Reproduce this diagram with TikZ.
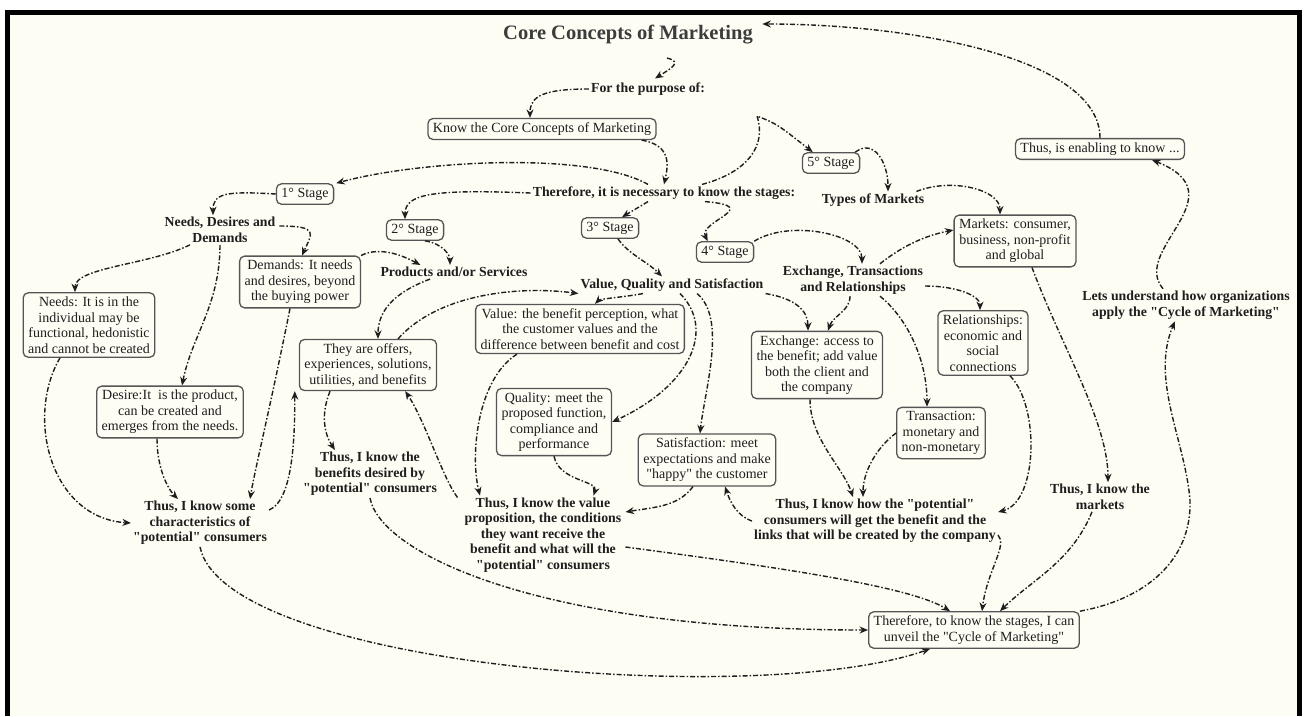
\documentclass[tikz,border=0pt]{standalone}
\usepackage{fontspec}
\setmainfont{Liberation Serif}[Ligatures=TeXOff]
\usetikzlibrary{arrows.meta, calc}
\definecolor{bgcream}{HTML}{FEFDF4}
\definecolor{boxgray}{HTML}{555555}
\definecolor{textdark}{HTML}{1E1E1E}
\definecolor{titlegray}{HTML}{3C3C3C}

\begin{document}
\begin{tikzpicture}[x=1pt, y=-1pt,
  block/.style={draw=boxgray, line width=1.3pt, rounded corners=5pt, fill=bgcream, align=center, inner xsep=5pt, inner ysep=4pt, text=textdark, font=\fontsize{14}{15.5}\selectfont},
  phrase/.style={align=center, text=textdark, inner sep=2pt, font=\bfseries\fontsize{13.8}{15.5}\selectfont},
  arrow/.style={line width=1.4pt, draw=textdark, dash pattern=on 5pt off 2pt on 1.5pt off 2pt, -{Stealth[length=8.5pt,width=7pt]}}]

\useasboundingbox (0,0) rectangle (1304,716);
\fill[white] (0,0) rectangle (1304,716);
\fill[black] (5,10) rectangle (1302,716);
\fill[bgcream] (10,15) rectangle (1297,716);

\node[font=\bfseries\fontsize{20.5}{24}\selectfont, text=titlegray] (title) at (628,35) {Core Concepts of Marketing};
\node[phrase] (purpose) at (648,89) {For the purpose of:};
\node[block] (know) at (542,129) {Know the Core Concepts of Marketing};
\node[phrase] (therefore) at (664,193) {Therefore, it is necessary to know the stages:};
\node[block] (s1) at (305,194) {1° Stage};
\node[block] (s2) at (415,230) {2° Stage};
\node[block] (s3) at (610,228) {3° Stage};
\node[block] (s4) at (725,252) {4° Stage};
\node[block] (s5) at (831,163) {5° Stage};
\node[phrase] (ndd) at (220,230) {Needs, Desires and\\Demands};
\node[phrase] (products) at (454,272) {Products and/or Services};
\node[phrase] (vqs) at (672,285) {Value, Quality and Satisfaction};
\node[phrase] (etr) at (853,280) {Exchange, Transactions\\and Relationships};
\node[phrase] (types) at (873,200) {Types of Markets};
\node[block] (markets) at (1015,241) {Markets: consumer,\\business, non-profit\\and global};
\node[block] (enabling) at (1100,149) {Thus, is enabling to know ...};
\node[phrase] (lets) at (1186,305) {Lets understand how organizations\\apply the "Cycle of Marketing"};
\node[block] (needs) at (89,325) {Needs: It is in the\\individual may be\\functional, hedonistic\\and cannot be created};
\node[block] (desire) at (170,412) {Desire:It\ \ is the product,\\can be created and\\emerges from the needs.};
\node[block] (demands) at (300,282) {Demands: It needs\\and desires, beyond\\the buying power};
\node[block] (offers) at (368,365) {They are offers,\\experiences, solutions,\\utilities, and benefits};
\node[block] (value) at (580,329) {Value: the benefit perception, what\\the customer values and the\\difference between benefit and cost};
\node[block] (quality) at (554,422) {Quality: meet the\\proposed function,\\compliance and\\performance};
\node[block] (satisf) at (707,460) {Satisfaction: meet\\expectations and make\\"happy" the customer};
\node[block] (exchange) at (817,365) {Exchange: access to\\the benefit; add value\\both the client and\\the company};
\node[block] (relation) at (983,343) {Relationships:\\economic and\\social\\connections};
\node[block] (transac) at (941,433) {Transaction:\\monetary and\\non-monetary};
\node[phrase] (thusmkt) at (1100,497) {Thus, I know the\\markets};
\node[phrase] (thushow) at (875,521) {Thus, I know how the "potential"\\consumers will get the benefit and the\\links that will be created by the company};
\node[block] (cycle) at (974,630) {Therefore, to know the stages, I can\\unveil the "Cycle of Marketing"};
\node[phrase] (thusval) at (543,535) {Thus, I know the value\\proposition, the conditions\\they want receive the\\benefit and what will the\\"potential" consumers};
\node[phrase] (thusben) at (370,474) {Thus, I know the\\benefits desired by\\"potential" consumers};
\node[phrase] (thussome) at (200,523) {Thus, I know some\\characteristics of\\"potential" consumers};

\coordinate (loop5) at (757,116);
\coordinate (turn13) at (1190,500);

\draw[arrow] ($(title.south)+(39,10)$) .. controls +(16,4) and +(16,-10) .. ($(purpose.north)+(7,-2)$);
\draw[arrow] (purpose.west) .. controls +(-45,0) and +(0,-22) .. ($(know.north)+(-12,0)$);
\draw[arrow] ($(know.south east)+(-15,0)$) .. controls +(28,5) and +(5,-22) .. (therefore.north);
\draw[arrow] ($(therefore.north)+(-16,0)$) .. controls +(-58,-33) and +(85,-23) .. ($(s1.north east)+(2,0)$);
\draw[arrow] (therefore.west) .. controls +(-100,-4) and +(0,-25) .. ($(s2.north)+(-10,0)$);
\draw[arrow] ($(therefore.south)+(-16,0)$) .. controls +(-8,5) and +(8,-5) .. ($(s3.north)+(12,0)$);
\draw[arrow] ($(therefore.south)+(41,0)$) .. controls +(60,5) and +(-10,-20) .. ($(s4.north west)+(12,0)$);
\draw[arrow] ($(therefore.north)+(38,0)$) .. controls +(45,-12) and +(10,30) .. (loop5) .. controls +(20,8) .. ($(s5.north west)+(11,0)$);
\draw[arrow] ($(s5.north east)+(-5,0)$) .. controls +(18,-14) and +(0,-30) .. ($(types.north)+(15,0)$);
\draw[arrow] ($(types.north east)+(-10,0)$) .. controls +(35,-14) and +(0,-25) .. ($(markets.north)+(-15,0)$);
\draw[arrow] (enabling.north) .. controls +(0,-80) and +(150,0) .. ($(title.north east)+(6,2)$);
\draw[arrow] ($(lets.north)+(-23,0)$) .. controls +(-33,-39) and +(88,35) .. ($(enabling.south east)+(-33,0)$);
\draw[arrow] (cycle.north east) .. controls +(66,-12) and +(2,60) .. (turn13) .. controls +(-5,-60) and +(-25,58) .. ($(lets.south)+(-11,0)$);

\draw[arrow] (s1.west) .. controls +(-50,-3) and +(0,-22) .. ($(ndd.north)+(-7,0)$);
\draw[arrow] ($(ndd.east)+(2,-4)$) .. controls +(40,0) and +(10,-22) .. ($(demands.north)+(2,0)$);
\draw[arrow] ($(ndd.south)+(-30,0)$) .. controls +(-40,20) and +(0,-25) .. ($(needs.north)+(-14,0)$);
\draw[arrow] (ndd.south) .. controls +(0,60) and +(10,-50) .. ($(desire.north)+(12,0)$);
\draw[arrow] (demands.north east) .. controls +(20,-10) and +(-15,-8) .. ($(products.north west)+(42,0)$);
\draw[arrow] ($(s2.south)+(10,0)$) .. controls +(18,3) and +(0,-10) .. ($(products.north)+(-4,0)$);
\draw[arrow] ($(products.south)+(-24,0)$) .. controls +(-40,15) and +(0,-25) .. ($(offers.north)+(10,0)$);
\draw[arrow] ($(offers.north)+(30,0)$) .. controls +(40,-45) and +(-60,-8) .. (vqs.south west);
\draw[arrow] ($(s3.south)+(8,0)$) .. controls +(10,15) and +(-15,-15) .. ($(vqs.north)+(-10,0)$);
\draw[arrow] (s4.north east) .. controls +(35,-22) and +(0,-30) .. ($(etr.north)+(9,0)$);
\draw[arrow] ($(etr.north)+(27,0)$) .. controls +(25,-20) and +(-25,5) .. ($(markets.west)+(0,-11)$);

\draw[arrow] ($(vqs.south)+(-29,0)$) .. controls +(-15,3) and +(5,-5) .. ($(value.north)+(15,0)$);
\draw[arrow] ($(vqs.south)+(8,0)$) .. controls +(35,35) and +(80,-37) .. (quality.east);
\draw[arrow] ($(vqs.south)+(25,0)$) .. controls +(30,25) and +(5,-45) .. ($(satisf.north)+(-7,0)$);
\draw[arrow] (vqs.south east) .. controls +(30,5) and +(0,-20) .. ($(exchange.north)+(-9,0)$);
\draw[arrow] ($(etr.south)+(-3,0)$) .. controls +(0,15) and +(5,-15) .. ($(exchange.north)+(11,0)$);
\draw[arrow] ($(etr.east)+(0,6)$) .. controls +(30,0) and +(0,-15) .. ($(relation.north)+(-3,0)$);
\draw[arrow] ($(etr.south)+(27,0)$) .. controls +(25,20) and +(0,-50) .. ($(transac.north)+(-14,0)$);
\draw[arrow] ($(markets.south)+(17,0)$) .. controls +(30,80) and +(0,-60) .. ($(thusmkt.north)+(8,0)$);

\draw[arrow] ($(exchange.south)+(-7,0)$) .. controls +(0,40) and +(-10,-30) .. ($(thushow.north)+(-22,0)$);
\draw[arrow] (transac.west) .. controls +(-20,15) and +(0,-25) .. ($(thushow.north)+(-12,0)$);
\draw[arrow] ($(relation.south)+(27,0)$) .. controls +(30,30) and +(40,-10) .. ($(thushow.north east)+(0,15)$);
\draw[arrow] (thushow.west) .. controls +(-15,-5) and +(5,15) .. ($(satisf.south)+(18,0)$);
\draw[arrow] ($(thushow.south east)+(0,-10)$) .. controls +(10,10) and +(5,-40) .. ($(cycle.north)+(8,0)$);
\draw[arrow] ($(thusmkt.south)+(-8,0)$) .. controls +(-20,50) and +(30,-30) .. ($(cycle.north)+(26,0)$);
\draw[arrow] ($(thusval.east)+(2,12)$) .. controls +(150,20) and +(-40,-25) .. ($(cycle.north)+(-24,0)$);
\draw[arrow] (thusben.south) .. controls +(10,55) and +(-330,0) .. (cycle.west);
\draw[arrow] (thussome.south) .. controls +(25,120) and +(-170,60) .. ($(cycle.south)+(-44,0)$);

\draw[arrow] ($(needs.south)+(-29,0)$) .. controls +(-35,60) and +(-80,-5) .. (thussome.west);
\draw[arrow] ($(desire.south)+(-13,0)$) .. controls +(0,30) and +(-10,-10) .. ($(thussome.north)+(-22,0)$);
\draw[arrow] ($(demands.south)+(-10,0)$) .. controls +(-20,100) and +(5,-30) .. ($(thussome.north)+(50,0)$);
\draw[arrow] ($(thussome.east)+(0,-13)$) .. controls +(25,-10) and +(0,40) .. ($(offers.south west)+(-4,0)$);
\draw[arrow] ($(offers.south)+(-38,0)$) .. controls +(-10,25) and +(-10,-15) .. ($(thusben.north)+(-35,0)$);
\draw[arrow] ($(thusval.north west)+(-5,2)$) .. controls +(-15,-20) and +(20,30) .. ($(offers.south east)+(-32,0)$);
\draw[arrow] ($(value.south west)+(42,0)$) .. controls +(-40,25) and +(-10,-40) .. ($(thusval.north)+(-63,0)$);
\draw[arrow] (quality.south) .. controls +(5,25) and +(5,-15) .. ($(thusval.north east)+(-30,0)$);
\draw[arrow] ($(satisf.south)+(-14,0)$) .. controls +(-15,20) and +(30,-5) .. ($(thusval.east)+(2,-23)$);

\end{tikzpicture}
\end{document}
